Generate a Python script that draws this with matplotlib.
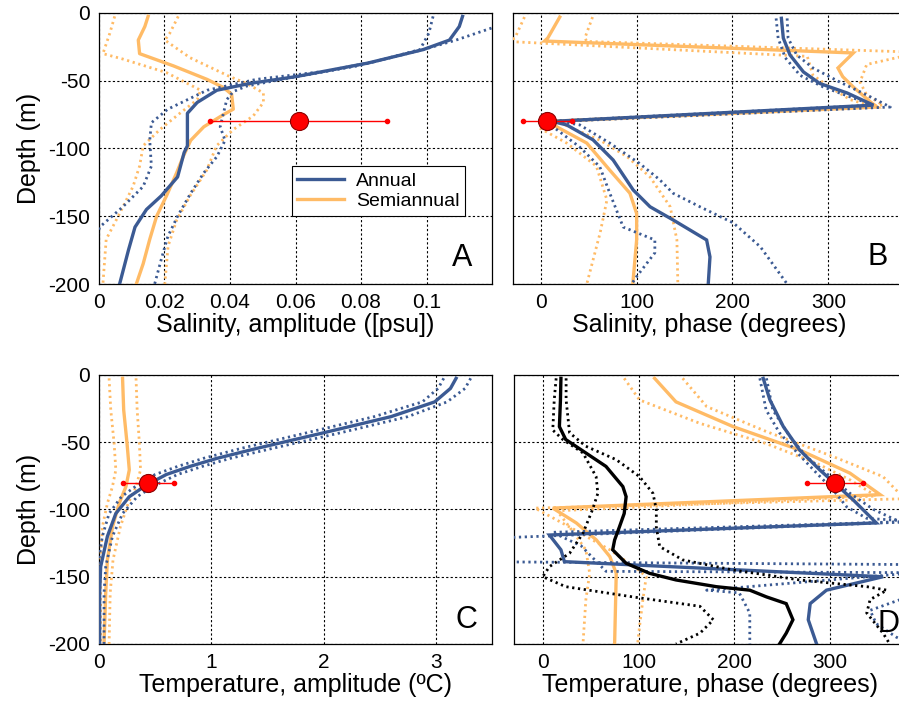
import matplotlib
matplotlib.use('Agg')
import matplotlib.pyplot as plt

plt.rcParams['font.family'] = ['Liberation Sans', 'DejaVu Sans']

BLUE = '#3b5a93'
ORANGE = '#ffbb66'
BLACK = '#000000'
RED = '#ff0000'

# ---------------- Panel A: salinity amplitude ----------------
a_ann_d = [-2.5, -10, -20, -27, -37, -47, -52, -57, -60, -66, -74, -84, -98, -103, -121, -135, -145, -158, -175, -200]
a_ann_x = [0.111, 0.110, 0.107, 0.099, 0.082, 0.060, 0.046, 0.036, 0.034, 0.030, 0.027, 0.027, 0.027, 0.026, 0.024, 0.019, 0.0145, 0.011, 0.009, 0.0063]
a_ann_hi_d = [-2.5, -11, -20, -27, -39, -48, -54, -58, -64, -74, -84, -94, -106, -118, -133, -150, -165, -182, -200]
a_ann_hi_x = [0.128, 0.120, 0.109, 0.099, 0.079, 0.058, 0.045, 0.041, 0.039, 0.038, 0.037, 0.0385, 0.036, 0.032, 0.028, 0.024, 0.021, 0.019, 0.017]
a_ann_lo_d = [-2.5, -15, -27, -36, -43, -49, -57, -64, -71, -81, -94, -113, -128, -143, -158, -168, -180, -200]
a_ann_lo_x = [0.102, 0.1007, 0.098, 0.084, 0.069, 0.048, 0.033, 0.027, 0.021, 0.016, 0.0155, 0.016, 0.0135, 0.0073, 0.0002, -0.001, -0.005, -0.008]
a_semi_d = [-2.5, -10, -20, -30, -39, -49, -55, -60, -71, -75, -84, -94, -106, -118, -135, -150, -167, -185, -200]
a_semi_x = [0.015, 0.014, 0.012, 0.0124, 0.0227, 0.033, 0.038, 0.0405, 0.041, 0.038, 0.032, 0.028, 0.0257, 0.0237, 0.0206, 0.0176, 0.0155, 0.0135, 0.0114]
a_semi_lo_d = [-2.5, -15, -30, -34, -44, -57, -64, -74, -86, -98, -113, -128, -148, -167, -200]
a_semi_lo_x = [0.0048, 0.0033, 0.0012, 0.0073, 0.0206, 0.031, 0.030, 0.0247, 0.0186, 0.0135, 0.0124, 0.0104, 0.0063, 0.0022, 0.0012]
a_semi_hi_d = [-2.5, -15, -20, -33, -47, -52, -59, -66, -76, -86, -98, -116, -135, -153, -172, -200]
a_semi_hi_x = [0.0242, 0.0216, 0.0201, 0.0278, 0.040, 0.0451, 0.0502, 0.0502, 0.0471, 0.041, 0.0359, 0.0329, 0.0278, 0.0237, 0.0211, 0.0201]
a_obs = (0.061, 0.034, 0.088)

# ---------------- Panel B: salinity phase ----------------
b_ann_d = [-3.9, -18.5, -31, -43.5, -52, -59, -68, -80, -82.6, -93.6, -108.5, -130.6, -143, -152.7, -167.5, -180, -200]
b_ann_x = [251, 253, 260, 274, 291, 319.5, 347, 12, 27, 54.5, 75.5, 96.4, 114, 138, 173, 176.5, 174.7]
b_ann_lo_d = [-4, -18.5, -33, -46, -54.6, -62, -68, -80, -84, -99, -113.5, -133, -158, -167.5, -177, -194.5, -200]
b_ann_lo_x = [245.5, 247.6, 255, 270.5, 294.6, 323, 347, 5, 12.9, 40.7, 61.6, 72, 86, 119, 119, 100, 94.7]
b_ann_hi_d = [-4, -18.5, -31, -40.6, -51, -60.5, -69.4, -80, -82.6, -96, -111, -123, -133, -143, -155, -172.5, -200]
b_ann_hi_x = [257, 258, 267, 284, 312, 340, 364.6, 20, 40.7, 72, 103, 124, 138, 166, 201, 229, 257]
b_semi_d = [-3, -18.5, -20.7, -29.5, -40.6, -47, -54.6, -65.7, -69.4, -80, -84, -96, -116, -133, -148, -167.5, -200]
b_semi_x = [19.8, 7.3, 4, 326, 310, 315, 326, 344, 351, 10, 16.7, 48, 72, 93, 100, 100, 96]
b_semi_lo_d = [-3, -18.5, -21, -32, -46, -55, -64, -69, -80, -85, -96, -113, -138, -162, -200]
b_semi_lo_x = [-17, -27, -35, 278, 284, 302, 323, 347, 3, -1, 27, 58, 69, 62, 48]
b_semi_hi_d = [-3, -18.5, -21, -29, -30, -38, -51, -60.5, -68, -80, -81, -94, -106, -121, -143, -167.5, -200]
b_semi_hi_x = [54, 46, 48, 395, 390, 340, 333, 340, 357, 15, 20, 62, 90, 114, 135, 142, 143]
b_obs = (7, -18.5, 32.5)

# ---------------- Panel C: temperature amplitude ----------------
c_ann_d = [-2.5, -10, -20, -31, -43, -54.5, -62, -68, -74, -82, -90.5, -103, -120, -142.5, -162, -200]
c_ann_x = [3.18, 3.13, 2.99, 2.60, 2.00, 1.41, 1.05, 0.81, 0.60, 0.42, 0.27, 0.15, 0.075, 0.015, 0.006, 0.006]
c_ann_hi_x = [3.31, 3.26, 3.10, 2.75, 2.15, 1.55, 1.17, 0.92, 0.70, 0.50, 0.34, 0.21, 0.12, 0.06, 0.045, 0.045]
c_ann_lo_x = [3.07, 3.02, 2.88, 2.45, 1.85, 1.27, 0.93, 0.70, 0.50, 0.34, 0.20, 0.09, 0.03, -0.01, -0.015, -0.015]
c_semi_d = [-2.5, -26, -51, -70.6, -83, -95.4, -113, -137.5, -162, -200]
c_semi_x = [0.21, 0.22, 0.25, 0.27, 0.24, 0.18, 0.12, 0.075, 0.06, 0.045]
c_semi_lo_x = [0.09, 0.105, 0.135, 0.15, 0.12, 0.075, 0.03, 0.015, 0.015, 0.015]
c_semi_hi_x = [0.33, 0.34, 0.36, 0.37, 0.33, 0.26, 0.19, 0.125, 0.10, 0.09]
c_obs = (0.44, 0.215, 0.665)

# ---------------- Panel D: temperature phase ----------------
d_ann_d = [-2.5, -18.6, -38.4, -55.8, -70.6, -81.8, -93, -110, -119, -130, -138.8, -150, -160, -170, -182, -200]
d_ann_x = [230, 237, 251, 268, 289, 306.6, 324, 348, 7, 19, 22.6, 355, 296, 279, 277, 285.7]
d_ann_lo_d = [-2.5, -26, -43, -58, -73, -85.5, -98, -106.6, -109, -121, -128, -139, -141, -160, -167, -175, -185, -195, -200]
d_ann_lo_x = [226.5, 233, 247, 265.7, 285.7, 303, 317, 338, 390, -40, -45, -35, 390, 395, 373, 341.5, 348, 369, 385]
d_ann_hi_d = [-2.5, -26, -46, -60.7, -75.6, -88, -100, -108, -109, -117, -127, -146, -147, -160, -162, -177, -200]
d_ann_hi_x = [233.4, 240, 258, 275, 300, 320.5, 345, 369, 380, 10, 40, 66, 390, 171, 205, 216, 216]
d_semi_d = [-2.5, -20, -38.4, -55.8, -73, -89, -99, -110, -122.7, -135, -147.5, -200]
d_semi_x = [116.7, 139, 198.6, 268, 320.5, 352, 10.5, 35, 56, 70, 76.7, 75]
d_semi_hi_d = [-2.5, -23.5, -42, -60.7, -75.6, -88, -92, -99, -115, -130, -145, -150, -167, -187, -200]
d_semi_hi_x = [146, 171, 233, 303, 355, 372, 380, -8, 33, 70, 100, 108, 104.5, 101, 99]
d_semi_lo_d = [-2.5, -18.6, -36, -51, -65.7, -78, -90, -101, -115, -130, -147.5, -167, -200]
d_semi_lo_x = [85, 101, 164, 233, 285.7, 320.5, 348, 15, 30, 45, 49, 45, 42]
d_blk_d = [-2.5, -18.6, -38.4, -48, -58, -68, -83, -90.5, -103, -113, -122.7, -130, -140, -147.5, -152.4, -157.4, -160, -165, -170, -182, -192, -200]
d_blk_x = [19, 18.5, 17.4, 24, 45, 66, 83.6, 87, 85, 80, 75, 73, 87, 111.5, 139, 181, 216, 233.4, 254, 261, 254, 247]
d_blk_lo_d = [-2.5, -18.6, -41, -48, -58, -75.6, -88, -100, -117.7, -132.6, -142.5, -150, -157.4, -165, -172, -182, -192, -200]
d_blk_lo_x = [14, 12, 10.5, 21, 42, 55.7, 57.5, 52, 42, 28, 7, 0, 24, 94, 164, 178, 164, 139]
d_blk_hi_d = [-2.5, -18.6, -43, -53, -63, -75.6, -88, -100, -113, -127.6, -137.5, -145, -152.4, -157.4, -160, -167, -177, -192, -200]
d_blk_hi_x = [24.4, 24.4, 28, 45, 76.7, 101, 115, 118.5, 118.5, 122, 146, 198.6, 268, 338, 359, 341.5, 338, 355, 362]
d_obs = (305, 275.4, 334.6)

obs_depth = -80
y_ticks = [0, -50, -100, -150, -200]

LW = 2.4
DOT = dict(linestyle=(0, (0.8, 1.3)), linewidth=2.0)


def solid(ax, x, d, c):
    ax.plot(x, d, color=c, linewidth=LW, solid_joinstyle='miter', zorder=3)


def dotted(ax, x, d, c):
    ax.plot(x, d, color=c, zorder=3, **DOT)


def obs(ax, o):
    ax.plot([o[1], o[2]], [obs_depth, obs_depth], color=RED, linewidth=1.0,
            marker='o', markersize=3, zorder=5)
    ax.plot([o[0]], [obs_depth], 'o', color=RED, markersize=13,
            markeredgecolor='#8b0000', markeredgewidth=0.8, zorder=6)


def style(ax, xlim, xticks, xticklabels, xlabel, letter, lpos, ylab):
    ax.set_xlim(*xlim)
    ax.set_ylim(-200, 0)
    ax.set_xticks(xticks)
    ax.set_xticklabels(xticklabels)
    ax.set_yticks(y_ticks)
    if ylab:
        ax.set_yticklabels([str(v) for v in y_ticks])
        ax.set_ylabel('Depth (m)', fontsize=18, labelpad=5)
    else:
        ax.set_yticklabels([])
    ax.tick_params(axis='both', direction='in', length=0, labelsize=15, pad=6.5)
    ax.set_xlabel(xlabel, fontsize=18, labelpad=1)
    ax.grid(True, color='black', linestyle=(0, (2, 2)), linewidth=0.8)
    ax.set_axisbelow(True)
    for s in ax.spines.values():
        s.set_linewidth(0.9)
    ax.text(lpos[0], lpos[1], letter, fontsize=22, ha='center', va='center', zorder=7)


fig = plt.figure(figsize=(8.99, 7.10), dpi=100)
axA = fig.add_axes([0.1101, 0.600, 0.4372, 0.3817])
axB = fig.add_axes([0.5706, 0.600, 0.4372, 0.3817])
axC = fig.add_axes([0.1101, 0.093, 0.4372, 0.3789])
axD = fig.add_axes([0.5717, 0.093, 0.4372, 0.3789])

# A
dotted(axA, a_semi_lo_x, a_semi_lo_d, ORANGE)
dotted(axA, a_semi_hi_x, a_semi_hi_d, ORANGE)
ls = axA.plot(a_semi_x, a_semi_d, color=ORANGE, linewidth=LW, zorder=3, label='Semiannual')[0]
dotted(axA, a_ann_lo_x, a_ann_lo_d, BLUE)
dotted(axA, a_ann_hi_x, a_ann_hi_d, BLUE)
la = axA.plot(a_ann_x, a_ann_d, color=BLUE, linewidth=LW, zorder=3, label='Annual')[0]
obs(axA, a_obs)
leg = axA.legend([la, ls], ['Annual', 'Semiannual'], loc='upper left',
                 bbox_to_anchor=(0.49, 0.435), fontsize=14, frameon=True,
                 fancybox=False, framealpha=1, edgecolor='black',
                 handlelength=2.4, borderpad=0.3, labelspacing=0.15,
                 handletextpad=0.6, borderaxespad=0)
leg.get_frame().set_linewidth(0.8)
leg.set_zorder(8)
style(axA, (0, 0.12), [0, 0.02, 0.04, 0.06, 0.08, 0.1],
      ['0', '0.02', '0.04', '0.06', '0.08', '0.1'],
      'Salinity, amplitude ([psu])', 'A', (0.111, -181), True)

# B
solid(axB, b_semi_x, b_semi_d, ORANGE)
dotted(axB, b_semi_lo_x, b_semi_lo_d, ORANGE)
dotted(axB, b_semi_hi_x, b_semi_hi_d, ORANGE)
solid(axB, b_ann_x, b_ann_d, BLUE)
dotted(axB, b_ann_lo_x, b_ann_lo_d, BLUE)
dotted(axB, b_ann_hi_x, b_ann_hi_d, BLUE)
obs(axB, b_obs)
style(axB, (-29, 381), [0, 100, 200, 300], ['0', '100', '200', '300'],
      'Salinity, phase (degrees)', 'B', (351, -180), False)

# C
solid(axC, c_semi_x, c_semi_d, ORANGE)
dotted(axC, c_semi_lo_x, c_semi_d, ORANGE)
dotted(axC, c_semi_hi_x, c_semi_d, ORANGE)
solid(axC, c_ann_x, c_ann_d, BLUE)
dotted(axC, c_ann_lo_x, c_ann_d, BLUE)
dotted(axC, c_ann_hi_x, c_ann_d, BLUE)
obs(axC, c_obs)
style(axC, (0, 3.5), [0, 1, 2, 3], ['0', '1', '2', '3'],
      'Temperature, amplitude (ºC)', 'C', (3.27, -182), True)

# D
solid(axD, d_semi_x, d_semi_d, ORANGE)
dotted(axD, d_semi_lo_x, d_semi_lo_d, ORANGE)
dotted(axD, d_semi_hi_x, d_semi_hi_d, ORANGE)
solid(axD, d_ann_x, d_ann_d, BLUE)
dotted(axD, d_ann_lo_x, d_ann_lo_d, BLUE)
dotted(axD, d_ann_hi_x, d_ann_hi_d, BLUE)
solid(axD, d_blk_x, d_blk_d, BLACK)
dotted(axD, d_blk_lo_x, d_blk_lo_d, BLACK)
dotted(axD, d_blk_hi_x, d_blk_hi_d, BLACK)
obs(axD, d_obs)
style(axD, (-30, 380), [0, 100, 200, 300], ['0', '100', '200', '300'],
      'Temperature, phase (degrees)', 'D', (361, -185), False)

fig.savefig('out.png', dpi=100)
